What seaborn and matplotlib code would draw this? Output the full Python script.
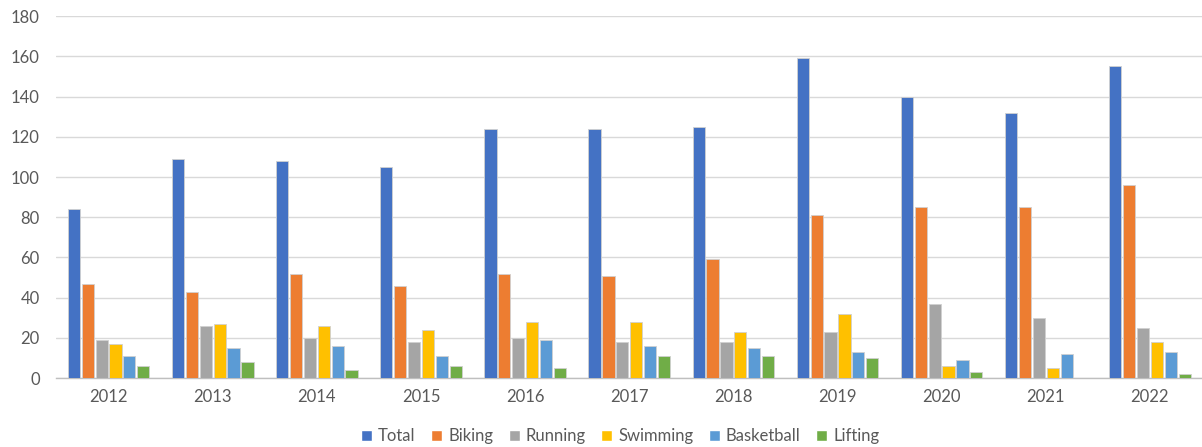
import numpy as np
import pandas as pd
import matplotlib
matplotlib.use('Agg')
import matplotlib.pyplot as plt
from matplotlib.patches import Patch
import seaborn as sns

years = ['2012', '2013', '2014', '2015', '2016', '2017', '2018', '2019', '2020', '2021', '2022']
total = [84, 109, 108, 105, 124, 124, 125, 159, 140, 132, 155]
biking = [47, 43, 52, 46, 52, 51, 59, 81, 85, 85, 96]
running = [19, 26, 20, 18, 20, 18, 18, 23, 37, 30, 25]
swimming = [17, 27, 26, 24, 28, 28, 23, 32, 6, 5, 18]
basketball = [11, 15, 16, 11, 19, 16, 15, 13, 9, 12, 13]
lifting = [6, 8, 4, 6, 5, 11, 11, 10, 3, 0, 2]

series_names = ['Total', 'Biking', 'Running', 'Swimming', 'Basketball', 'Lifting']
colors = ['#4472C4', '#ED7D31', '#A5A5A5', '#FFC000', '#5B9BD5', '#70AD47']

# long table for seaborn
df = pd.DataFrame({'year': years, 'Total': total, 'Biking': biking, 'Running': running,
                   'Swimming': swimming, 'Basketball': basketball, 'Lifting': lifting})
df_long = df.melt(id_vars='year', var_name='activity', value_name='count')

sns.set_style('white')
plt.rcParams['font.family'] = ['Lato', 'DejaVu Sans']

fig = plt.figure(figsize=(12.02, 4.47), dpi=100)
ax = fig.add_axes([0.047, 0.154, 0.953, 0.81])

sns.barplot(data=df_long, x='year', y='count', hue='activity', hue_order=series_names,
            palette=colors, saturation=1, width=0.8, gap=0.12, ax=ax, legend=False,
            edgecolor='#D0D0D0', linewidth=0.6, zorder=3)

ax.set_ylim(0, 180)
ax.set_yticks(np.arange(0, 181, 20))
ax.set_xlim(-0.5, len(years) - 0.5)
ax.set_xlabel('')
ax.set_ylabel('')
ax.yaxis.grid(True, color='#D9D9D9', linewidth=1.0, zorder=0)
ax.set_axisbelow(True)
for s in ['top', 'right', 'left']:
    ax.spines[s].set_visible(False)
ax.spines['bottom'].set_color('#BFBFBF')
ax.spines['bottom'].set_linewidth(1.0)
ax.tick_params(axis='both', length=0, labelsize=12, colors='#595959')
ax.tick_params(axis='x', pad=8)
ax.tick_params(axis='y', pad=12)

handles = [Patch(facecolor=c, label=n) for n, c in zip(series_names, colors)]
fig.legend(handles=handles, loc='lower center', bbox_to_anchor=(0.516, -0.027), ncol=6,
           frameon=False, fontsize=12, handlelength=0.65, handleheight=0.65,
           handletextpad=0.35, columnspacing=0.95, labelcolor='#595959')

fig.savefig('out.png', dpi=100)
